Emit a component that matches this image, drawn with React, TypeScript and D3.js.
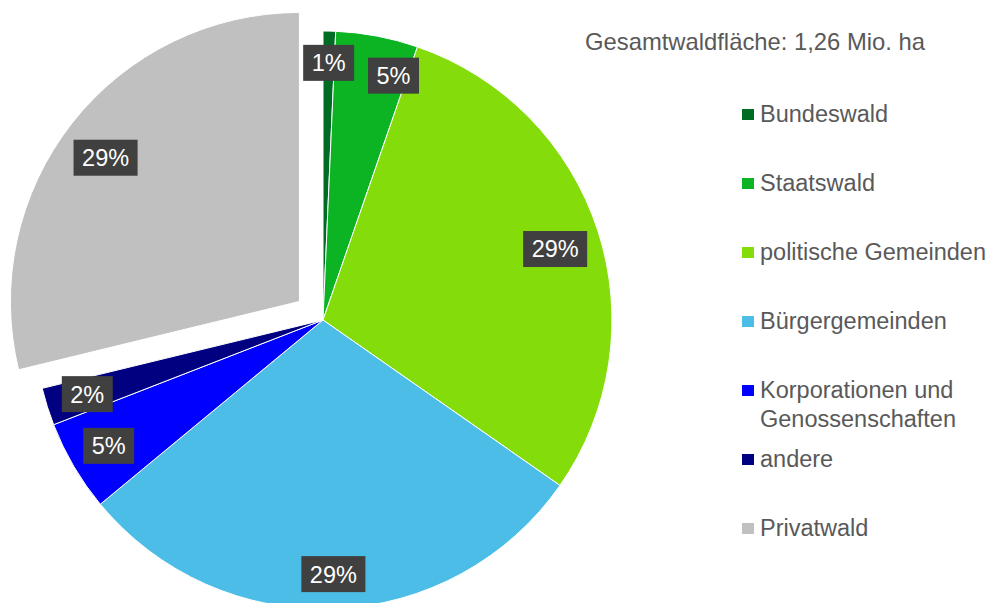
import React, { useEffect, useRef } from "react";
import * as d3 from "d3";

const categories = [
  "Bundeswald",
  "Staatswald",
  "politische Gemeinden",
  "Bürgergemeinden",
  "Korporationen und Genossenschaften",
  "andere",
  "Privatwald",
];
const legendLines = [
  ["Bundeswald"],
  ["Staatswald"],
  ["politische Gemeinden"],
  ["Bürgergemeinden"],
  ["Korporationen und", "Genossenschaften"],
  ["andere"],
  ["Privatwald"],
];
const shares = [0.7, 4.6, 29.4, 29.3, 5.1, 2.1, 28.8];
const colors = ["#006b22", "#0cb423", "#84dd0a", "#4bbde6", "#0000ff", "#000080", "#c0c0c0"];
const exploded = [false, false, false, false, false, false, true];
const title = "Gesamtwaldfläche: 1,26 Mio. ha";

// label placement (fraction of radius, angular nudge in degrees)
const labelRadius = [0.89, 0.88, 0.84, 0.88, 0.86, 0.855, 0.835];
const labelAngleNudge = [0, 5.3, 1.0, 0, 0, 0, -1.6];

const W = 993;
const H = 603;
const FONT = "'Liberation Sans', Arial, sans-serif";

export default function App() {
  const ref = useRef<SVGSVGElement | null>(null);

  useEffect(() => {
    const svg = d3.select(ref.current);
    svg.selectAll("*").remove();

    const cx = 323;
    const cy = 320;
    const R = 289;
    const explodeDist = 30;

    const pie = d3.pie<number>().sort(null).value((d) => d)(shares);
    const arc = d3.arc<d3.PieArcDatum<number>>().innerRadius(0).outerRadius(R);

    const g = svg.append("g").attr("transform", `translate(${cx},${cy})`);

    const offset = (d: d3.PieArcDatum<number>, i: number) => {
      if (!exploded[i]) return [0, 0];
      const mid = (d.startAngle + d.endAngle) / 2;
      return [Math.sin(mid) * explodeDist, -Math.cos(mid) * explodeDist];
    };

    g.selectAll("path.slice")
      .data(pie)
      .join("path")
      .attr("class", "slice")
      .attr("d", (d) => arc(d) as string)
      .attr("transform", (d, i) => {
        const [ox, oy] = offset(d, i);
        return `translate(${ox},${oy})`;
      })
      .attr("fill", (_, i) => colors[i])
      .attr("stroke", "#ffffff")
      .attr("stroke-width", 1);

    // data labels
    pie.forEach((d, i) => {
      const [ox, oy] = offset(d, i);
      const mid = (d.startAngle + d.endAngle) / 2 + (labelAngleNudge[i] * Math.PI) / 180;
      const r = R * labelRadius[i];
      const x = ox + Math.sin(mid) * r;
      const y = oy - Math.cos(mid) * r;
      const lg = g.append("g").attr("transform", `translate(${x},${y})`);
      const rect = lg.append("rect").attr("fill", "#404040");
      const t = lg
        .append("text")
        .attr("text-anchor", "middle")
        .attr("dy", "0.36em")
        .attr("fill", "#ffffff")
        .style("font-family", FONT)
        .style("font-size", "23.5px")
        .text(`${Math.round(shares[i])}%`);
      const w = (t.node() as SVGTextElement).getComputedTextLength();
      const bw = w + 17;
      const bh = 36;
      rect.attr("x", -bw / 2).attr("y", -bh / 2).attr("width", bw).attr("height", bh);
    });

    // title
    svg
      .append("text")
      .attr("x", 585)
      .attr("y", 50)
      .attr("fill", "#595959")
      .style("font-family", FONT)
      .style("font-size", "23.8px")
      .text(title);

    // legend
    const lgX = 742;
    const baseY = 122;
    const step = 69;
    categories.forEach((_, i) => {
      const by = baseY + i * step;
      svg
        .append("rect")
        .attr("x", lgX)
        .attr("y", by - 13)
        .attr("width", 12)
        .attr("height", 11)
        .attr("fill", colors[i]);
      const t = svg
        .append("text")
        .attr("x", lgX + 18)
        .attr("y", by)
        .attr("fill", "#595959")
        .style("font-family", FONT)
        .style("font-size", "23.5px");
      legendLines[i].forEach((line, j) => {
        t.append("tspan")
          .attr("x", lgX + 18)
          .attr("y", by + j * 29)
          .text(line);
      });
    });
  }, []);

  return (
    <div style={{ position: "absolute", left: 0, top: 0, width: W, height: H, background: "#fff" }}>
      <svg ref={ref} width={W} height={H} style={{ display: "block", overflow: "hidden" }} />
    </div>
  );
}
